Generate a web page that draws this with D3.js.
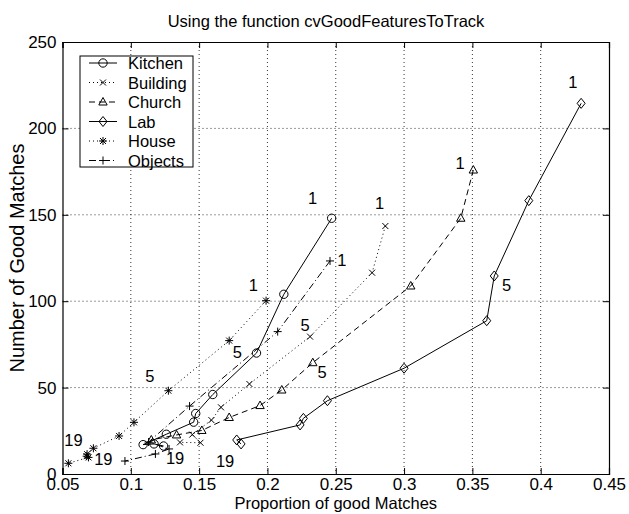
<!DOCTYPE html>
<html><head><meta charset="utf-8">
<script src="https://cdn.jsdelivr.net/npm/d3@7"></script>
<style>body{margin:0;background:#fff}svg{display:block}text{font-family:"Liberation Sans",Arial,Helvetica,sans-serif;fill:#000}</style>
</head><body><svg id="c" width="629" height="514"></svg>
<script>
const xTicks=[0.05,0.1,0.15,0.2,0.25,0.3,0.35,0.4,0.45];
const xTickLabels=["0.05","0.1","0.15","0.2","0.25","0.3","0.35","0.4","0.45"];
const yTicks=[0,50,100,150,200,250];
const seriesNames=["Kitchen","Building","Church","Lab","House","Objects"];
const kitchen=[[0.247,148],[0.212,104],[0.192,70],[0.160,46],[0.1475,35],[0.146,30],[0.126,23],[0.109,17],[0.117,17.4],[0.124,16.2]];
const building=[[0.2863,143.5],[0.2766,116.5],[0.2312,79.5],[0.1868,52.1],[0.166,38.6],[0.159,31.2],[0.145,22.8],[0.151,18.1],[0.136,18.3]];
const church=[[0.3507,175.9],[0.3415,148],[0.3049,108.8],[0.2332,64.4],[0.2105,48.6],[0.1946,39.6],[0.172,32.7],[0.152,25.2],[0.1335,22.6],[0.115,19.7]];
const lab=[[0.4296,214.5],[0.3913,158.2],[0.366,114.6],[0.3605,88.7],[0.30,61.2],[0.2439,42.4],[0.2263,32.2],[0.2239,28.4],[0.1775,19.7],[0.1807,17.4]];
const house=[[0.199,100.3],[0.172,77.2],[0.1275,48.2],[0.1023,29.9],[0.0914,22],[0.0726,14.9],[0.068,11.5],[0.0677,10.3],[0.069,9.6],[0.0543,6.2]];
const objects=[[0.2458,123.3],[0.2075,82.4],[0.143,39.3],[0.113,18.5],[0.128,14.5],[0.118,11.6],[0.0957,7.5]];
const annText=["1","1","1","1","1","1","5","5","5","5","5","19","19","19","19"];
const annX=[0.233,0.282,0.341,0.4235,0.1897,0.2544,0.178,0.2275,0.240,0.375,0.114,0.058,0.0799,0.1324,0.169];
const annY=[159.5,157,180,227,109.4,123.8,70.7,86,59.2,109.4,56.7,19.7,8.5,9.3,7.5];

const data=[kitchen,building,church,lab,house,objects];
const dashes=[null,"1,3","6,4",null,"1,3","7,3,1,3"];
const markers=["circle","x","triangle","diamond","asterisk","plus"];

const svg=d3.select("#c");
const L=62.5,R=609,T=42,B=474;
const x=d3.scaleLinear().domain([0.05,0.45]).range([L,R]);
const y=d3.scaleLinear().domain([0,250]).range([B,T]);

function markerPath(t){
  switch(t){
    case "circle": return d3.symbol(d3.symbolCircle,55)();
    case "x": return "M-3,-3L3,3M-3,3L3,-3";
    case "triangle": return "M0,-4.5L4.2,3L-4.2,3Z";
    case "diamond": return "M0,-5L4,0L0,5L-4,0Z";
    case "asterisk": return "M-4,0L4,0M0,-4L0,4M-3,-3L3,3M-3,3L3,-3";
    case "plus": return "M-4,0L4,0M0,-4L0,4";
  }
}

// grid
const g=svg.append("g");
g.selectAll(".gx").data(xTicks.slice(1,-1)).join("line")
 .attr("x1",d=>x(d)).attr("x2",d=>x(d)).attr("y1",T).attr("y2",B)
 .attr("stroke","#000").attr("stroke-width",0.8).attr("stroke-dasharray","1,3");
g.selectAll(".gy").data(yTicks.slice(1,-1)).join("line")
 .attr("y1",d=>y(d)).attr("y2",d=>y(d)).attr("x1",L).attr("x2",R)
 .attr("stroke","#000").attr("stroke-width",0.8).attr("stroke-dasharray","1,3");

// axes
const ax=svg.append("g");
const xb=d3.axisBottom(x).tickValues(xTicks).tickSize(-6).tickPadding(4).tickFormat((d,i)=>xTickLabels[i]);
const xt=d3.axisTop(x).tickValues(xTicks).tickSize(-6).tickFormat("");
const yl=d3.axisLeft(y).tickValues(yTicks).tickSize(-6).tickPadding(6);
const yr=d3.axisRight(y).tickValues(yTicks).tickSize(-6).tickFormat("");
function styl(s){s.selectAll("path,line").attr("stroke","#000").attr("stroke-width",1);s.selectAll("text").style("font-size","17px").attr("fill","#000");s.select(".domain").attr("stroke-width",1.2);}
ax.append("g").attr("transform",`translate(0,${B})`).call(xb).call(styl);
ax.append("g").attr("transform",`translate(0,${T})`).call(xt).call(styl);
ax.append("g").attr("transform",`translate(${L},0)`).call(yl).call(styl);
ax.append("g").attr("transform",`translate(${R},0)`).call(yr).call(styl);

// series
const line=d3.line().x(d=>x(d[0])).y(d=>y(d[1]));
data.forEach((s,i)=>{
  svg.append("path").attr("d",line(s)).attr("fill","none").attr("stroke","#000").attr("stroke-width",1)
    .attr("stroke-dasharray",dashes[i]);
  svg.selectAll(null).data(s).join("path").attr("d",markerPath(markers[i]))
    .attr("transform",d=>`translate(${x(d[0])},${y(d[1])})`)
    .attr("fill","none").attr("stroke","#000").attr("stroke-width",1);
});

// annotations
svg.selectAll(null).data(annText).join("text").text(d=>d)
  .attr("x",(d,i)=>x(annX[i])).attr("y",(d,i)=>y(annY[i]))
  .attr("text-anchor","middle").attr("dominant-baseline","central").style("font-size","16.5px");

// legend
const lg=svg.append("g");
lg.append("rect").attr("x",80).attr("y",56).attr("width",113).attr("height",111).attr("fill","#fff").attr("stroke","#000").attr("stroke-width",1);
seriesNames.forEach((n,i)=>{
  const yy=63+i*19.5;
  lg.append("line").attr("x1",89).attr("x2",117).attr("y1",yy).attr("y2",yy).attr("stroke","#000").attr("stroke-width",1).attr("stroke-dasharray",dashes[i]);
  lg.append("path").attr("d",markerPath(markers[i])).attr("transform",`translate(103,${yy})`).attr("fill","none").attr("stroke","#000").attr("stroke-width",1);
  lg.append("text").attr("x",128).attr("y",yy).attr("dominant-baseline","central").style("font-size","16.5px").text(n);
});

// titles
svg.append("text").attr("x",326).attr("y",27).attr("text-anchor","middle").style("font-size","16.5px").text("Using the function cvGoodFeaturesToTrack");
svg.append("text").attr("x",(L+R)/2).attr("y",509).attr("text-anchor","middle").style("font-size","16.5px").text("Proportion of good Matches");
svg.append("text").attr("transform",`translate(24,${(T+B)/2}) rotate(-90)`).attr("text-anchor","middle").style("font-size","20px").text("Number of Good Matches");
</script></body></html>
